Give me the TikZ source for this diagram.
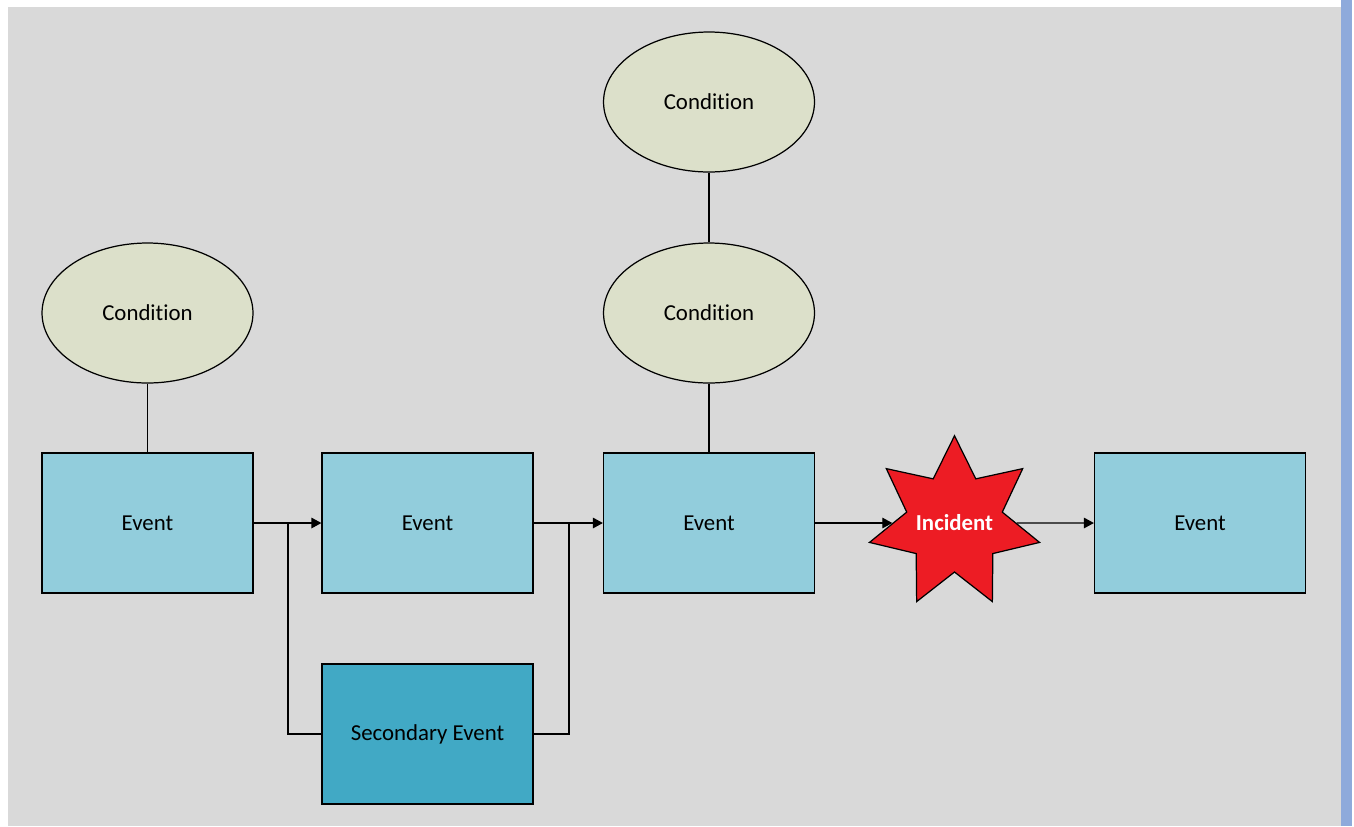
\documentclass[tikz,border=0pt]{standalone}
\usepackage{fontspec}
\setmainfont{Carlito}[Ligatures={NoCommon,NoContextual}, Contextuals=NoAlternate]
\usepackage{tikz}
\usetikzlibrary{shapes.geometric,positioning}
\usetikzlibrary{arrows.meta}
\definecolor{eventblue}{RGB}{146,205,220}
\definecolor{secblue}{RGB}{65,169,197}
\definecolor{condgreen}{RGB}{220,224,202}
\definecolor{bggray}{RGB}{217,217,217}
\definecolor{incred}{RGB}{237,28,36}
\definecolor{edgeblue}{RGB}{142,170,219}
\tikzset{
    eventbox/.style={
        draw=black,
        line width=0.7pt,
        fill=eventblue,
        minimum width=4.22cm,
        minimum height=2.8cm,
        inner sep=0pt
    },
    secbox/.style={
        eventbox,
        fill=secblue
    },
    condnode/.style={
        ellipse,
        draw=black,
        line width=0.7pt,
        fill=condgreen,
        minimum width=4.22cm,
        minimum height=2.8cm
    },
    % 事故节点
    incidentstar/.style={
        star, star points=7, star point ratio=1.78,
        draw=black,
        line width=0.7pt,
        fill=incred,
        minimum size=3.49cm,
        inner sep=0pt,
        text=white,
        font=\fontsize{13}{15}\selectfont\bfseries
    },
    flowarrow/.style={
        line width=0.7pt,
        -{Triangle[length=5.7pt, width=6pt]}
    },
    plainline/.style={
        line width=0.7pt
    }
}
\begin{document}
\begin{tikzpicture}[x=0.02cm, y=-0.02cm, font=\fontsize{13}{15}\selectfont]
            \useasboundingbox (0,0) rectangle (1354,826);
            \fill[bggray] (8,7) rectangle (1341,826);
            \fill[edgeblue] (1341,0) rectangle (1352,826);

            % conditions
            \node[condnode] (cond1) at (147.5,313) {Condition};
            \node[condnode] (cond2) at (709,102) {Condition};
            \node[condnode] (cond3) at (709,313) {Condition};

            % events
            \node[eventbox] (ev1) at (147.5,523) {Event};
            \node[eventbox] (ev2) at (427.5,523) {Event};
            \node[eventbox] (ev3) at (709,523) {Event};
            \node[incidentstar] (inc) at (954.5,523) {\makebox[0pt]{Incident}};
            \node[eventbox] (ev5) at (1200,523) {Event};
            \node[secbox] (sec) at (427.5,734) {Secondary Event};

            \coordinate (fork) at (288,523);
            \coordinate (join) at (569,523);

            \draw[plainline] (cond1) -- (ev1);
            \draw[plainline] (cond2) -- (cond3);
            \draw[plainline] (cond3) -- (ev3);

            \draw[flowarrow] (ev1) -- (ev2);
            \draw[plainline] (fork) |- (sec.west);
            \draw[plainline] (sec.east) -| (join);
            \draw[flowarrow] (ev2) -- (ev3);
            \draw[flowarrow] (ev3) -- (inc);
            \draw[flowarrow] (inc) -- (ev5);
        \end{tikzpicture}
\end{document}
